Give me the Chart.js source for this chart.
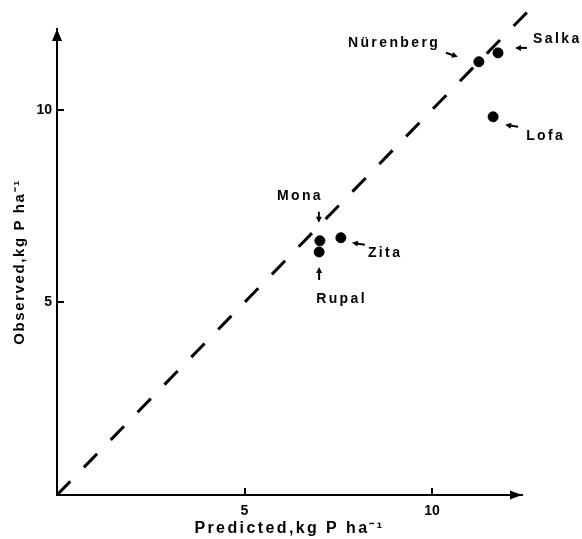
<!DOCTYPE html>
<html>
<head>
<meta charset="utf-8">
<script src="https://cdn.jsdelivr.net/npm/chart.js@4.4.1/dist/chart.umd.min.js"></script>
<style>
  html, body { margin: 0; padding: 0; background: #fff; }
  canvas { display: block; }
</style>
</head>
<body>
<canvas id="c" width="582" height="539"></canvas>
<script>
// Cultivar yields: predicted vs observed P uptake (kg P per ha)
const cultivars = ['Nürenberg', 'Salka', 'Lofa', 'Mona', 'Rupal', 'Zita'];
const predicted = [11.25, 11.76, 11.63, 7.01, 6.99, 7.57];
const observed  = [11.25, 11.48, 9.82, 6.60, 6.31, 6.68];
const xTickValues = [5, 10];
const yTickValues = [5, 10];
const oneToOne = [0, 12.55];          // ends of the 1:1 reference line
const xTitle = 'Predicted,kg P ha⁻¹';
const yTitle = 'Observed,kg P ha⁻¹';

const INK = '#000';
const FONT = '"Liberation Sans", Arial, Helvetica, sans-serif';
const LABEL_TRACK = 2.4;

// Where each cultivar's name and pointer arrow sit, relative to its dot (px)
const callouts = {
  'Nürenberg': { align: 'right', tx: -41, ty: -15, ax: -33, ay: -9,  bx: -21, by: -5 },
  'Salka':     { align: 'left',  tx: 35,  ty: -10, ax: 29,  ay: -5,  bx: 17,  by: -5 },
  'Lofa':      { align: 'left',  tx: 33,  ty: 23,  ax: 25,  ay: 10,  bx: 12,  by: 8 },
  'Mona':      { align: 'left',  tx: -43, ty: -41, ax: -1,  ay: -29, bx: -1,  by: -18 },
  'Rupal':     { align: 'left',  tx: -3,  ty: 51,  ax: 0,   ay: 28,  bx: 0,   by: 15 },
  'Zita':      { align: 'left',  tx: 27,  ty: 19,  ax: 24,  ay: 7,   bx: 11,  by: 5 }
};

function drawPointer(ctx, x1, y1, x2, y2) {
  const ang = Math.atan2(y2 - y1, x2 - x1);
  const head = 6, half = 3;
  ctx.beginPath();
  ctx.moveTo(x1, y1);
  ctx.lineTo(x2 - Math.cos(ang) * head * 0.8, y2 - Math.sin(ang) * head * 0.8);
  ctx.stroke();
  ctx.beginPath();
  ctx.moveTo(x2, y2);
  ctx.lineTo(x2 - Math.cos(ang) * head - Math.sin(ang) * half, y2 - Math.sin(ang) * head + Math.cos(ang) * half);
  ctx.lineTo(x2 - Math.cos(ang) * head + Math.sin(ang) * half, y2 - Math.sin(ang) * head - Math.cos(ang) * half);
  ctx.closePath();
  ctx.fill();
}

const figureDecor = {
  id: 'figureDecor',
  beforeInit(chart) {
    chart.ctx.letterSpacing = '2px';
  },
  afterLayout(chart) {
    // tracking on the axis titles
    [[chart.scales.x, '2.4px'], [chart.scales.y, '1.6px']].forEach(([s, ls]) => {
      if (s._trackedTitle) return;
      const orig = s.drawTitle;
      s.drawTitle = function () {
        const c = this.ctx, prev = c.letterSpacing;
        c.letterSpacing = ls;
        orig.call(this);
        c.letterSpacing = prev;
      };
      s._trackedTitle = true;
    });
  },
  afterDraw(chart) {
    const { ctx, chartArea: a, scales: { x: sx, y: sy } } = chart;
    ctx.save();
    ctx.fillStyle = INK;
    ctx.strokeStyle = INK;

    // axis arrowheads
    ctx.beginPath();
    ctx.moveTo(a.right, a.bottom);
    ctx.lineTo(a.right - 12, a.bottom - 4.5);
    ctx.lineTo(a.right - 12, a.bottom + 4.5);
    ctx.closePath();
    ctx.fill();
    ctx.beginPath();
    ctx.moveTo(a.left, a.top);
    ctx.lineTo(a.left - 5, a.top + 12);
    ctx.lineTo(a.left + 5, a.top + 12);
    ctx.closePath();
    ctx.fill();

    // tick marks pointing into the plot
    ctx.lineWidth = 2;
    xTickValues.forEach(v => {
      const px = Math.round(sx.getPixelForValue(v));
      ctx.beginPath(); ctx.moveTo(px, a.bottom); ctx.lineTo(px, a.bottom - 7); ctx.stroke();
    });
    yTickValues.forEach(v => {
      const py = Math.round(sy.getPixelForValue(v));
      ctx.beginPath(); ctx.moveTo(a.left, py); ctx.lineTo(a.left + 7, py); ctx.stroke();
    });

    // cultivar names with pointer arrows
    ctx.font = 'bold 14px ' + FONT;
    ctx.letterSpacing = LABEL_TRACK + 'px';
    ctx.textBaseline = 'alphabetic';
    ctx.lineWidth = 2;
    cultivars.forEach((name, i) => {
      const c = callouts[name];
      const px = sx.getPixelForValue(predicted[i]);
      const py = sy.getPixelForValue(observed[i]);
      ctx.textAlign = c.align;
      ctx.fillText(name, px + c.tx + (c.align === 'right' ? LABEL_TRACK : 0), py + c.ty);
      drawPointer(ctx, px + c.ax, py + c.ay, px + c.bx, py + c.by);
    });
    ctx.restore();
  }
};

new Chart(document.getElementById('c'), {
  type: 'scatter',
  data: {
    datasets: [
      {
        label: '1:1',
        type: 'line',
        data: oneToOne.map(v => ({ x: v, y: v })),
        borderColor: INK,
        borderWidth: 3,
        borderDash: [19, 19.5],
        pointRadius: 0,
        fill: false,
        clip: false,
        order: 2
      },
      {
        label: 'Cultivars',
        data: cultivars.map((n, i) => ({ x: predicted[i], y: observed[i] })),
        backgroundColor: INK,
        borderColor: INK,
        pointRadius: 5,
        pointHoverRadius: 5,
        order: 1
      }
    ]
  },
  options: {
    responsive: false,
    animation: false,
    devicePixelRatio: 1,
    events: [],
    layout: { padding: { left: 0, right: 60, top: 29, bottom: 0 } },
    plugins: { legend: { display: false }, tooltip: { enabled: false } },
    scales: {
      x: {
        type: 'linear',
        min: 0,
        max: 12.4,
        afterBuildTicks: s => { s.ticks = xTickValues.map(v => ({ value: v })); },
        afterFit: s => { s.height = 44; },
        grid: { display: false, drawTicks: false },
        border: { display: true, color: INK, width: 2 },
        ticks: { color: INK, font: { family: FONT, size: 14, weight: 'bold' }, padding: 8, maxRotation: 0 },
        title: { display: true, text: xTitle, color: INK, font: { family: FONT, size: 16, weight: 'bold' }, padding: { top: 0, bottom: 1 } }
      },
      y: {
        type: 'linear',
        min: 0,
        max: 12.1,
        afterBuildTicks: s => { s.ticks = yTickValues.map(v => ({ value: v })); },
        afterFit: s => { s.width = 57; },
        grid: { display: false, drawTicks: false },
        border: { display: true, color: INK, width: 2 },
        ticks: { color: INK, font: { family: FONT, size: 14, weight: 'bold' }, padding: 5 },
        title: { display: true, text: yTitle, color: INK, font: { family: FONT, size: 15, weight: 'bold' }, padding: { top: 11, bottom: 0 } }
      }
    }
  },
  plugins: [figureDecor]
});
</script>
</body>
</html>
